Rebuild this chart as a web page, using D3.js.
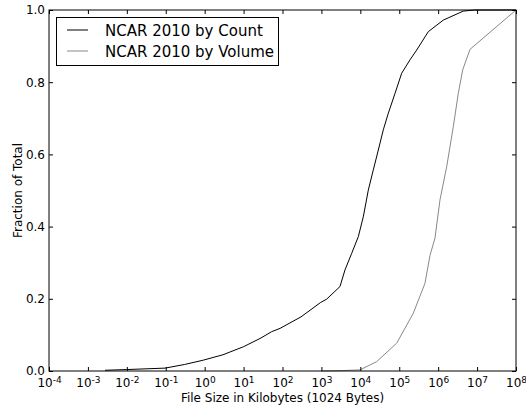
<!DOCTYPE html>
<html>
<head>
<meta charset="utf-8">
<script src="https://cdn.jsdelivr.net/npm/d3@7"></script>
<style>
  body { margin: 0; background: #fff; }
  svg { display: block; font-family: "DejaVu Sans", sans-serif; }
</style>
</head>
<body>
<svg id="chart" width="526" height="406"></svg>
<script>
// file size in KB vs cumulative fraction
let countSizes = [2.75e-3, 1e-2, 9.6e-2, 0.303, 0.92, 2.96, 6.0, 9.84, 26.4, 52.8, 86.3, 299, 959, 1365, 3000, 4036, 6000, 8872, 11910, 16030, 21530, 28970, 38900, 52400, 77800, 115600, 188800, 280500, 557200, 1355000, 4426000, 8831000, 1e8];
let countFrac = [0.002, 0.004, 0.008, 0.018, 0.03, 0.045, 0.058, 0.067, 0.09, 0.109, 0.118, 0.15, 0.19, 0.199, 0.234, 0.28, 0.326, 0.372, 0.427, 0.501, 0.557, 0.612, 0.668, 0.714, 0.769, 0.825, 0.862, 0.889, 0.94, 0.972, 0.997, 1.0, 1.0];

let volumeSizes = [975, 3000, 9795, 26300, 85900, 229600, 458100, 616600, 827900, 1114000, 1656000, 2449000, 3289000, 4266000, 6577000, 1e8];
let volumeFrac = [0.0, 0.001, 0.003, 0.026, 0.077, 0.16, 0.243, 0.32, 0.368, 0.474, 0.566, 0.677, 0.769, 0.834, 0.891, 1.0];

let xTickExp = [-4, -3, -2, -1, 0, 1, 2, 3, 4, 5, 6, 7, 8];
let yTicks = [0, 0.2, 0.4, 0.6, 0.8, 1.0];
let seriesNames = ["NCAR 2010 by Count", "NCAR 2010 by Volume"];
let seriesColors = ["#000", "#888"];

let svg = d3.select("#chart");
let plotLeft = 49, plotRight = 516, plotTop = 10, plotBottom = 371;

let x = d3.scaleLog().domain([1e-4, 1e8]).range([plotLeft, plotRight]);
let y = d3.scaleLinear().domain([0, 1]).range([plotBottom, plotTop]);
let xTicks = xTickExp.map(e => Math.pow(10, e));

// series
let line = d3.line().x(d => x(d[0])).y(d => y(d[1]));
let countData = countSizes.map((s, i) => [s, countFrac[i]]);
let volumeData = volumeSizes.map((s, i) => [s, volumeFrac[i]]);

[countData, volumeData].forEach((data, i) => {
    svg.append("path")
        .datum(data)
        .attr("d", line)
        .attr("fill", "none")
        .attr("stroke", seriesColors[i])
        .attr("stroke-width", 1);
});

// axes (ticks pointing inward)
let xb = svg.append("g")
    .attr("transform", "translate(0," + plotBottom + ")")
    .call(d3.axisBottom(x).tickValues(xTicks).tickSize(-4).tickPadding(7).tickFormat(""));
xb.selectAll(".tick text").each(function(d, i) {
    let t = d3.select(this);
    t.append("tspan").text("10");
    t.append("tspan")
        .attr("dy", "-0.4em")
        .style("font-size", "9px")
        .text(xTickExp[i] < 0 ? "-" + Math.abs(xTickExp[i]) : xTickExp[i]);
});

svg.append("g")
    .attr("transform", "translate(0," + plotTop + ")")
    .call(d3.axisTop(x).tickValues(xTicks).tickSize(-4).tickFormat(""));

svg.append("g")
    .attr("transform", "translate(" + plotLeft + ",0)")
    .call(d3.axisLeft(y).tickValues(yTicks).tickSize(-4).tickPadding(4).tickFormat(d3.format(".1f")));

svg.append("g")
    .attr("transform", "translate(" + plotRight + ",0)")
    .call(d3.axisRight(y).tickValues(yTicks).tickSize(-4).tickFormat(""));

svg.selectAll(".domain").remove();
svg.selectAll(".tick line").attr("stroke", "#000");
svg.selectAll(".tick text")
    .attr("fill", "#000")
    .style("font-family", "DejaVu Sans")
    .style("font-size", "12px");

// frame
svg.append("rect")
    .attr("x", plotLeft).attr("y", plotTop)
    .attr("width", plotRight - plotLeft).attr("height", plotBottom - plotTop)
    .attr("fill", "none")
    .attr("stroke", "#000")
    .attr("stroke-width", 1);

// axis labels
svg.append("text")
    .attr("x", (plotLeft + plotRight) / 2)
    .attr("y", 402)
    .attr("text-anchor", "middle")
    .style("font-size", "12px")
    .text("File Size in Kilobytes (1024 Bytes)");

svg.append("text")
    .attr("transform", "translate(22," + (plotTop + plotBottom) / 2 + ") rotate(-90)")
    .attr("text-anchor", "middle")
    .style("font-size", "12px")
    .text("Fraction of Total");

// legend
let legend = svg.append("g");
legend.append("rect")
    .attr("x", 56.5).attr("y", 17.5)
    .attr("width", 222).attr("height", 48)
    .attr("fill", "#fff")
    .attr("stroke", "#000");

seriesNames.forEach((name, i) => {
    let ly = 30 + i * 21;
    legend.append("line")
        .attr("x1", 67).attr("x2", 88)
        .attr("y1", ly).attr("y2", ly)
        .attr("stroke", seriesColors[i]);
    legend.append("text")
        .attr("x", 105)
        .attr("y", ly + 5.5)
        .style("font-size", "15px")
        .text(name);
});
</script>
</body>
</html>
